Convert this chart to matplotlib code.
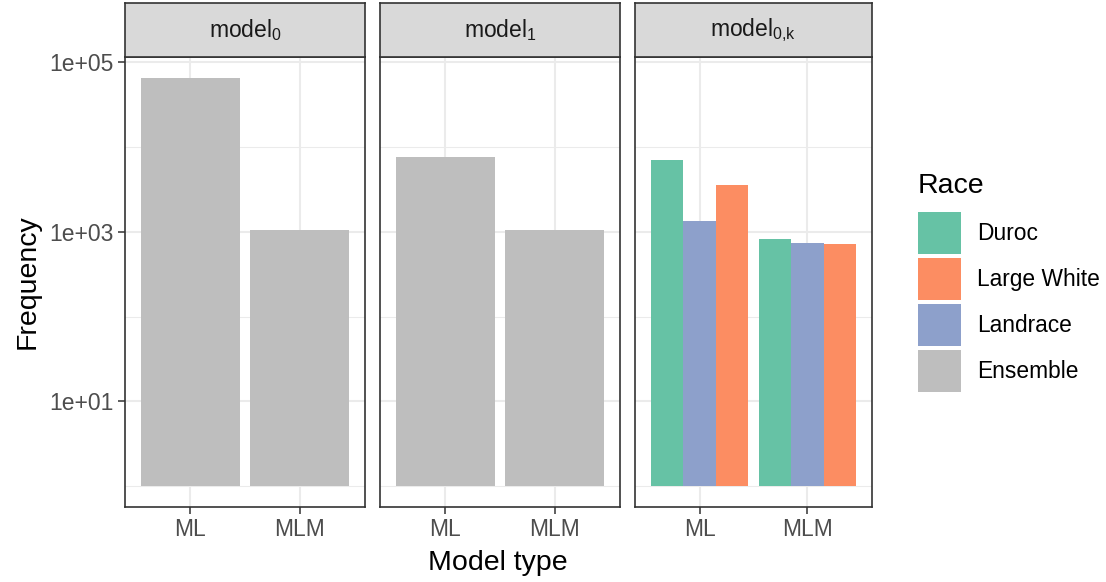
import numpy as np
import matplotlib
matplotlib.use("Agg")
import matplotlib.pyplot as plt
from matplotlib.patches import Patch
from matplotlib.ticker import FixedLocator, NullFormatter

plt.rcParams["font.family"] = ["Liberation Sans", "DejaVu Sans"]
plt.rcParams["mathtext.fontset"] = "custom"
plt.rcParams["mathtext.rm"] = "Liberation Sans"
plt.rcParams["mathtext.it"] = "Liberation Sans:italic"
plt.rcParams["mathtext.default"] = "regular"

# Data
models = ["model$_0$", "model$_1$", "model$_{0{,}k}$"]
model_types = ["ML", "MLM"]
ensemble_model0 = [65000, 1040]
ensemble_model1 = [7620, 1036]
duroc_model0k = [7090, 820]
landrace_model0k = [1337, 736]
largewhite_model0k = [3540, 710]

y_ticks = [1e1, 1e3, 1e5]
y_tick_labels = ["1e+01", "1e+03", "1e+05"]
y_minor = [1e0, 1e2, 1e4]

colors = {"Duroc": "#66C2A5", "Large White": "#FC8D62",
          "Landrace": "#8DA0CB", "Ensemble": "#BEBEBE"}

W, H = 1106, 582
fig = plt.figure(figsize=(W / 100, H / 100), dpi=100)


def px_axes(x0, y0, x1, y1):
    return fig.add_axes([x0 / W, 1 - y1 / H, (x1 - x0) / W, (y1 - y0) / H])


panel_x = [(125, 365), (380, 620), (635, 872)]
pos = np.arange(1, len(model_types) + 1)

for i, (x0, x1) in enumerate(panel_x):
    ax = px_axes(x0, 57, x1, 507)
    ax.set_yscale("log")

    if i == 0:
        ax.bar(pos, np.array(ensemble_model0) - 1, bottom=1, width=0.9,
               color=colors["Ensemble"], zorder=2)
    elif i == 1:
        ax.bar(pos, np.array(ensemble_model1) - 1, bottom=1, width=0.9,
               color=colors["Ensemble"], zorder=2)
    else:
        groups = [("Duroc", duroc_model0k), ("Landrace", landrace_model0k),
                  ("Large White", largewhite_model0k)]
        for j, (name, vals) in enumerate(groups):
            ax.bar(pos + (j - 1) * 0.3, np.array(vals) - 1, bottom=1, width=0.3,
                   color=colors[name], zorder=2)

    ax.set_xlim(0.4, 2.6)
    ax.set_ylim(10 ** -0.245, 10 ** 5.06)
    ax.set_xticks(pos)
    ax.set_xticklabels(model_types)
    ax.yaxis.set_major_locator(FixedLocator(y_ticks))
    ax.yaxis.set_minor_locator(FixedLocator(y_minor))
    ax.yaxis.set_minor_formatter(NullFormatter())
    ax.set_yticklabels(y_tick_labels)

    ax.grid(which="major", color="#EBEBEB", linewidth=1.5, zorder=0)
    ax.grid(which="minor", axis="y", color="#EBEBEB", linewidth=0.75, zorder=0)
    ax.set_axisbelow(True)

    ax.tick_params(axis="both", which="major", direction="out", length=5,
                   width=1.1, color="#333333", labelcolor="#4D4D4D",
                   labelsize=16.5, pad=3)
    ax.tick_params(axis="y", which="minor", length=0)
    if i > 0:
        ax.tick_params(axis="y", which="both", left=False, labelleft=False)
    for sp in ax.spines.values():
        sp.set_color("#333333")
        sp.set_linewidth(1.2)

    # facet strip
    st = px_axes(x0, 3, x1, 57)
    st.set_facecolor("#D9D9D9")
    st.set_xticks([])
    st.set_yticks([])
    for sp in st.spines.values():
        sp.set_color("#333333")
        sp.set_linewidth(1.2)
    st.text(0.5, 0.5, models[i], ha="center", va="center", fontsize=16.5,
            color="#1A1A1A", transform=st.transAxes)

fig.text(28 / W, 1 - 282 / H, "Frequency", rotation=90, ha="center",
         va="center", fontsize=20.5)
fig.text(498 / W, 1 - 563 / H, "Model type", ha="center", va="center",
         fontsize=20.5)

# legend title drawn separately to get the ggplot spacing
fig.text(918 / W, 1 - 193 / H, "Race", ha="left", va="baseline", fontsize=20.5)

legend_order = ["Duroc", "Large White", "Landrace", "Ensemble"]
handles = [Patch(facecolor=colors[k], edgecolor="none", label=k) for k in legend_order]
leg = fig.legend(handles=handles, loc="upper left",
                 bbox_to_anchor=(918 / W, 1 - 212 / H), frameon=False,
                 fontsize=16.4, borderpad=0, borderaxespad=0,
                 handlelength=1.89, handleheight=2.45,
                 labelspacing=0.18, handletextpad=0.72)

fig.savefig("out.png", dpi=100)
